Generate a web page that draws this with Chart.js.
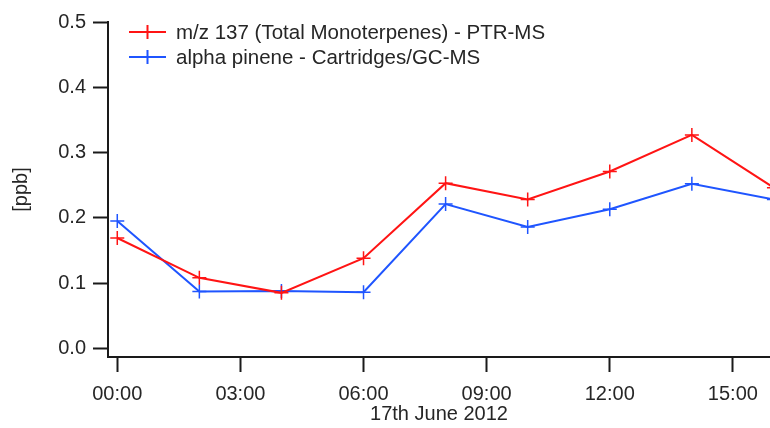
<!DOCTYPE html>
<html>
<head>
<meta charset="utf-8">
<script src="https://cdn.jsdelivr.net/npm/chart.js@4/dist/chart.umd.min.js"></script>
<style>
  html, body { margin: 0; padding: 0; background: #ffffff; }
  #wrap { width: 770px; height: 428px; }
</style>
</head>
<body>
<div id="wrap"><canvas id="c" width="770" height="428"></canvas></div>
<script>
// Sampling times (hours after midnight, 17 June 2012)
const hours = [0, 2, 4, 6, 8, 10, 12, 14, 16];
// m/z 137 total monoterpenes, PTR-MS [ppb]
const ptrms = [0.169, 0.108, 0.085, 0.138, 0.253, 0.228, 0.271, 0.327, 0.246];
// alpha pinene, cartridges / GC-MS [ppb]
const gcms = [0.195, 0.087, 0.088, 0.086, 0.221, 0.186, 0.213, 0.252, 0.228];
// Axis ticks
const xTickHours = [0, 3, 6, 9, 12, 15];
const xTickLabels = ['00:00', '03:00', '06:00', '09:00', '12:00', '15:00'];
const yTicks = [0.0, 0.1, 0.2, 0.3, 0.4, 0.5];
const seriesNames = ['m/z 137 (Total Monoterpenes) - PTR-MS', 'alpha pinene - Cartridges/GC-MS'];
const seriesColors = ['#ff1414', '#1f55ff'];

const FONT = 'Liberation Sans, Arial, Helvetica, sans-serif';
const TEXT = '#262626';
const AXIS = '#1a1a1a';
const FS = 20;

// Legend drawn inside the plot, top-left, with line + cross samples
const insideLegend = {
  id: 'insideLegend',
  afterDraw(chart) {
    const ctx = chart.ctx;
    ctx.save();
    ctx.font = '20.5px ' + FONT;
    ctx.textBaseline = 'middle';
    chart.data.datasets.forEach((ds, i) => {
      const y = 32 + i * 25;
      const x0 = 129, x1 = 166, xc = (x0 + x1) / 2;
      ctx.strokeStyle = ds.borderColor;
      ctx.lineWidth = 2;
      ctx.beginPath();
      ctx.moveTo(x0, y); ctx.lineTo(x1, y);
      ctx.moveTo(xc, y - 7); ctx.lineTo(xc, y + 7);
      ctx.stroke();
      ctx.fillStyle = TEXT;
      ctx.fillText(ds.label, 176, y + 1);
    });
    ctx.restore();
  }
};

const makeSet = (label, values, color) => ({
  label,
  data: hours.map((h, i) => ({ x: h, y: values[i] })),
  borderColor: color,
  backgroundColor: color,
  borderWidth: 2,
  pointStyle: 'cross',
  pointRadius: 7,
  pointBorderWidth: 1.5,
  pointHoverRadius: 7,
  tension: 0
});

new Chart(document.getElementById('c'), {
  type: 'line',
  data: {
    datasets: [
      makeSet(seriesNames[0], ptrms, seriesColors[0]),
      makeSet(seriesNames[1], gcms, seriesColors[1])
    ]
  },
  options: {
    responsive: false,
    devicePixelRatio: 1,
    animation: false,
    layout: { autoPadding: false, padding: { left: 0, right: 0, top: 22, bottom: 0 } },
    plugins: { legend: { display: false }, tooltip: { enabled: false } },
    scales: {
      x: {
        type: 'linear',
        min: -0.226,
        max: 15.904,
        afterBuildTicks: s => { s.ticks = xTickHours.map(v => ({ value: v })); },
        afterFit: s => { s.height = 71; s.paddingLeft = 0; s.paddingRight = 0; },
        border: { display: true, color: AXIS, width: 2 },
        grid: { drawOnChartArea: false, drawTicks: true, tickLength: 15, tickWidth: 2, tickColor: AXIS },
        ticks: {
          autoSkip: false,
          maxRotation: 0,
          padding: 10,
          color: TEXT,
          font: { family: FONT, size: FS },
          callback: v => xTickLabels[xTickHours.indexOf(v)]
        },
        title: {
          display: true,
          text: '17th June 2012',
          color: TEXT,
          font: { family: FONT, size: FS },
          padding: { top: 0, bottom: 2 }
        }
      },
      y: {
        type: 'linear',
        min: -0.0133,
        max: 0.5,
        afterBuildTicks: s => { s.ticks = yTicks.map(v => ({ value: v })); },
        afterFit: s => { s.width = 108; },
        border: { display: true, color: AXIS, width: 2 },
        grid: { drawOnChartArea: false, drawTicks: true, tickLength: 15, tickWidth: 2, tickColor: AXIS },
        ticks: {
          padding: 7,
          color: TEXT,
          font: { family: FONT, size: FS },
          callback: v => v.toFixed(1)
        },
        title: {
          display: true,
          text: '[ppb]',
          color: TEXT,
          font: { family: FONT, size: FS },
          padding: { top: 9, bottom: 0 }
        }
      }
    }
  },
  plugins: [insideLegend]
});
</script>
</body>
</html>
